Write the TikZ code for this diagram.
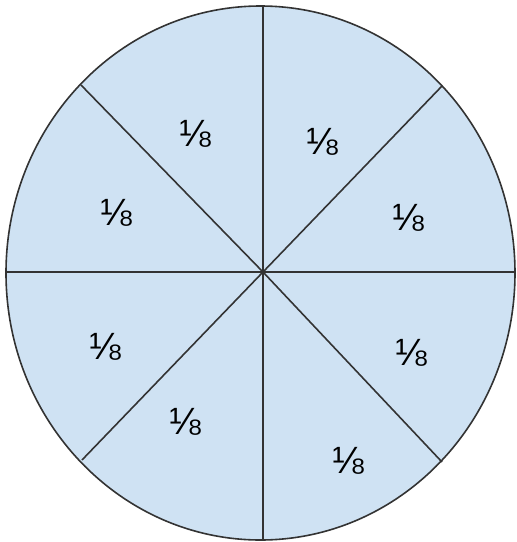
\documentclass[tikz,border=0pt]{standalone}
\usepackage{fontspec}
\setmainfont{Liberation Sans}
\definecolor{pie}{HTML}{CFE2F3}
\definecolor{edge}{HTML}{333333}
\begin{document}
\begin{tikzpicture}[x=1pt,y=-1pt,
  divider/.style={draw=edge,line width=1.6pt},
  frac/.style={font=\fontsize{38}{40}\selectfont,inner sep=0pt}]
\useasboundingbox (0,0) rectangle (517,542);
\coordinate (c) at (263,272);
\draw[fill=pie,draw=edge,line width=1.6pt] (260.5,273) ellipse [x radius=254.5,y radius=267];
\coordinate (n) at (263,6);
\coordinate (s) at (263,540);
\coordinate (w) at (6,272);
\coordinate (e) at (515,272);
\coordinate (nw) at (81,85);
\coordinate (ne) at (442,86);
\coordinate (sw) at (82,460);
\coordinate (se) at (442,462);
\foreach \p in {n,s,w,e,nw,ne,sw,se} \draw[divider] (c) -- (\p);
\node[frac] (l1) at (195,134) {⅛};
\node[frac] (l2) at (322,142) {⅛};
\node[frac] (l3) at (408,218) {⅛};
\node[frac] (l4) at (116,213) {⅛};
\node[frac] (l5) at (105,347) {⅛};
\node[frac] (l6) at (411,353) {⅛};
\node[frac] (l7) at (185,422) {⅛};
\node[frac] (l8) at (348,461) {⅛};
\end{tikzpicture}
\end{document}
